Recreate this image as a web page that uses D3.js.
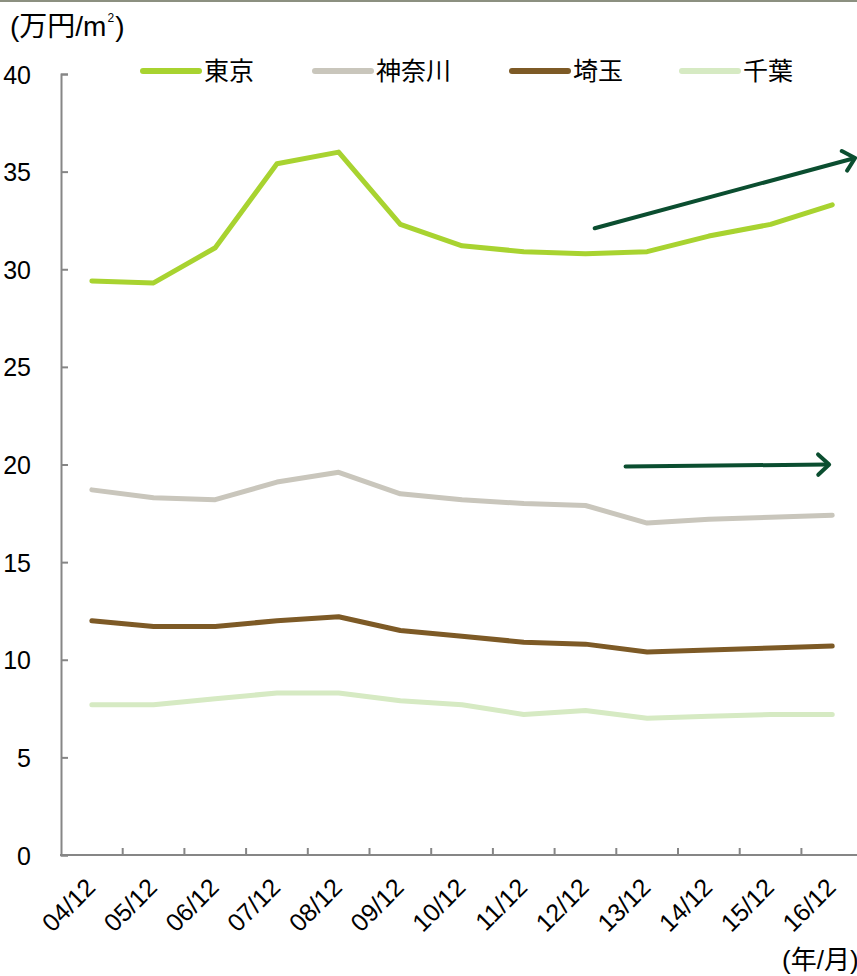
<!DOCTYPE html>
<html>
<head>
<meta charset="utf-8">
<script src="https://cdn.jsdelivr.net/npm/d3@7"></script>
<style>
  html, body { margin: 0; padding: 0; background: #fff; overflow: hidden; }
  svg { display: block; }
  text { font-family: "Liberation Sans", Arial, "Noto Sans CJK JP", sans-serif; fill: #000; }
</style>
</head>
<body>
<script>
// Average land price by prefecture (万円/㎡), December of each year
const periods = ["04/12","05/12","06/12","07/12","08/12","09/12","10/12","11/12","12/12","13/12","14/12","15/12","16/12"];
const tokyo    = [29.4, 29.3, 31.1, 35.4, 36.0, 32.3, 31.2, 30.9, 30.8, 30.9, 31.7, 32.3, 33.3];
const kanagawa = [18.7, 18.3, 18.2, 19.1, 19.6, 18.5, 18.2, 18.0, 17.9, 17.0, 17.2, 17.3, 17.4];
const saitama  = [12.0, 11.7, 11.7, 12.0, 12.2, 11.5, 11.2, 10.9, 10.8, 10.4, 10.5, 10.6, 10.7];
const chiba    = [7.7, 7.7, 8.0, 8.3, 8.3, 7.9, 7.7, 7.2, 7.4, 7.0, 7.1, 7.2, 7.2];
const seriesNames = ["東京", "神奈川", "埼玉", "千葉"];
const yTicks = [0, 5, 10, 15, 20, 25, 30, 35, 40];
// trend arrows: [position in period steps, value] from -> to
const trendArrows = [
  { from: [8.65, 32.1], to: [12.87, 35.7] },
  { from: [9.15, 19.9], to: [12.45, 20.0] }
];

const W = 857, H = 976;
const colors = ["#a8d330", "#c9c6bc", "#7d5a26", "#d6eac3"];
const allSeries = [tokyo, kanagawa, saitama, chiba];

const svg = d3.select("body").append("svg").attr("width", W).attr("height", H);

// thin frame line along the top edge
svg.append("rect").attr("x", 0).attr("y", 0).attr("width", W).attr("height", 2).attr("fill", "#8c9080");

const x0 = 61, step = 61.7;
const x = d3.scaleBand().domain(periods).range([x0, x0 + step * periods.length]).padding(0);
const y = d3.scaleLinear().domain([0, 40]).range([855, 74]);
const cx = d => x(d) + x.bandwidth() / 2;

const axisColor = "#868686";

// y axis
const yAxis = svg.append("g").attr("transform", `translate(${x0},0)`)
  .call(d3.axisLeft(y).tickValues(yTicks).tickSize(-7).tickPadding(30).tickFormat(d3.format("d")));
yAxis.select(".domain").attr("stroke", axisColor).attr("stroke-width", 2);
yAxis.selectAll(".tick line").attr("stroke", axisColor).attr("stroke-width", 2);
yAxis.selectAll(".tick text").attr("font-size", 25).attr("fill", "#000").attr("dy", "0.36em");

// x axis: ticks between categories, pointing up
const xAxisG = svg.append("g").attr("transform", `translate(0,${y(0)})`);
xAxisG.append("line").attr("x1", x0 - 1).attr("x2", W).attr("y1", 0).attr("y2", 0)
  .attr("stroke", axisColor).attr("stroke-width", 2);
xAxisG.selectAll("line.tk").data(periods.slice(1)).join("line").attr("class", "tk")
  .attr("x1", d => x(d)).attr("x2", d => x(d)).attr("y1", 0).attr("y2", -7)
  .attr("stroke", axisColor).attr("stroke-width", 2);
xAxisG.selectAll("text").data(periods).join("text")
  .attr("transform", d => `translate(${cx(d) + 5},${34}) rotate(-45)`)
  .attr("text-anchor", "end").attr("font-size", 25).text(d => d);

// series lines
const line = d3.line().x((d, i) => cx(periods[i])).y(d => y(d));
svg.append("g").selectAll("path").data(allSeries).join("path")
  .attr("d", d => line(d))
  .attr("fill", "none")
  .attr("stroke", (d, i) => colors[i])
  .attr("stroke-width", 5)
  .attr("stroke-linejoin", "round")
  .attr("stroke-linecap", "round");

// trend arrows
const arrowColor = "#0b4e30";
const px = v => x0 + step * v;
trendArrows.forEach(a => {
  const x1 = px(a.from[0]), y1 = y(a.from[1]), x2 = px(a.to[0]), y2 = y(a.to[1]);
  const ang = Math.atan2(y2 - y1, x2 - x1);
  const g = svg.append("g").attr("stroke", arrowColor).attr("stroke-width", 4)
    .attr("stroke-linecap", "round").attr("stroke-linejoin", "round").attr("fill", "none");
  g.append("line").attr("x1", x1).attr("y1", y1).attr("x2", x2 - 2 * Math.cos(ang)).attr("y2", y2 - 2 * Math.sin(ang));
  const L = 15, spread = Math.PI / 4.2;
  const p1 = [x2 - L * Math.cos(ang - spread), y2 - L * Math.sin(ang - spread)];
  const p2 = [x2 - L * Math.cos(ang + spread), y2 - L * Math.sin(ang + spread)];
  g.append("path").attr("d", `M${p1[0]},${p1[1]}L${x2},${y2}L${p2[0]},${p2[1]}`);
});

// legend
const legendX = [143, 315, 512, 682];
const lg = svg.append("g").selectAll("g").data(seriesNames).join("g")
  .attr("transform", (d, i) => `translate(${legendX[i]},71)`);
lg.append("line").attr("x1", 0).attr("x2", 56).attr("y1", 0).attr("y2", 0)
  .attr("stroke", (d, i) => colors[i]).attr("stroke-width", 6).attr("stroke-linecap", "round");
lg.append("text").attr("x", 61).attr("y", 0).attr("dy", "0.36em").attr("font-size", 25).text(d => d);

// unit labels
const unit = svg.append("text").attr("x", 10).attr("y", 36).attr("font-size", 28);
unit.append("tspan").text("(万円/m");
unit.append("tspan").attr("font-size", 12).attr("dy", -14).attr("dx", 1).text("2");
unit.append("tspan").attr("dy", 14).attr("dx", 1).text(")");
svg.append("text").attr("x", 782).attr("y", 969).attr("font-size", 26).text("(年/月)");
</script>
</body>
</html>
